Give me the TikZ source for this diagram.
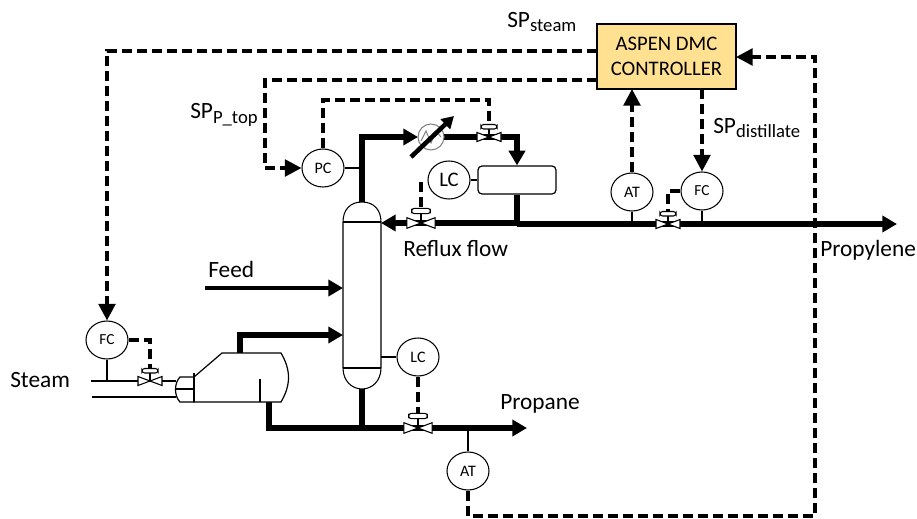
\documentclass[tikz,border=0pt]{standalone}
\usepackage{fontspec}
\setmainfont{Carlito}
\usetikzlibrary{arrows.meta,shapes.geometric}
\definecolor{ctrlfill}{RGB}{255,225,145}
\newcommand{\subtxt}[1]{\raisebox{-3.5pt}{\fontsize{14}{16}\selectfont #1}}
\tikzset{
  instr/.style={draw,ellipse,fill=white,line width=0.8pt,inner sep=0pt,minimum width=31.5pt,minimum height=28.5pt,font=\fontsize{12}{14}\selectfont},
  lbl/.style={inner sep=0pt,font=\fontsize{17.5}{20}\selectfont},
  heavy/.style={line width=4pt,miter limit=4},
  signal/.style={line width=2.7pt,dash pattern=on 7.5pt off 3.75pt},
  thin line/.style={line width=0.9pt},
  heavytip/.style={-{Triangle[length=11pt,width=12pt]}},
  signaltip/.style={-{Triangle[length=12.5pt,width=12.5pt]}},
  valve/.pic={
    \draw [line width=0.8pt,fill=white] (-12,4.5) -- (12,-4.5) -- (12,4.5) -- (-12,-4.5) -- cycle;
    \draw [line width=1.2pt] (0,0) -- (0,8);
    \draw [line width=0.8pt,fill=white,rounded corners=2pt] (-8,8) rectangle (8,12.5);
  }
}
\begin{document}
\begin{tikzpicture}[x=0.75pt,y=0.75pt,yscale=-1,xscale=1]
\useasboundingbox (0,0) rectangle (917,518);

% junctions
\coordinate (vsteam) at (150,381);
\coordinate (vreflux) at (421,223);
\coordinate (vtop) at (489,137);
\coordinate (vdist) at (668,224);
\coordinate (vbot) at (418,428);
\coordinate (reflux tee) at (517,224);
\coordinate (top out) at (362,202);
\coordinate (bot out) at (362,389);

% column, drum, controller
\draw [line width=0.8pt,fill=white] (343,222) -- (343,368) .. controls (343,381) and (352,389) .. (362,389) .. controls (372,389) and (381,381) .. (381,368) -- (381,222) .. controls (381,210) and (374,202) .. (362,202) .. controls (350,202) and (343,210) .. (343,222) -- cycle;
\draw [line width=0.8pt] (343,222) -- (381,222) (343,368) -- (381,368);
\node (drum) [draw,line width=0.9pt,rounded corners=3pt,fill=white,minimum width=58.5pt,minimum height=21pt,inner sep=0pt] at (517,180) {};
\node (ctrl) [draw,line width=1pt,fill=ctrlfill,minimum width=104.25pt,minimum height=48.75pt,inner sep=0pt,align=center,font=\fontsize{15.5}{19}\selectfont] at (666.5,56.5) {ASPEN DMC\\CONTROLLER};

% instruments
\node (fcsteam) [instr,font=\fontsize{11.5}{14}\selectfont] at (107,340) {FC};
\node (pc) [instr] at (323,168) {PC};
\node (lctop) [instr,font=\fontsize{15.5}{18}\selectfont] at (449,180) {LC};
\node (lcbot) [instr] at (418,357) {LC};
\node (atdist) [instr] at (632,192) {AT};
\node (fcdist) [instr,font=\fontsize{11.5}{14}\selectfont] at (702,191) {FC};
\node (atbot) [instr] at (468,471) {AT};

% process lines
\coordinate (burner top) at (240,353);
\coordinate (burner bot) at (269,402);
\coordinate (steam in) at (91,381);
\coordinate (steam end) at (176,381);
\draw [line width=2pt] (steam in) -- (steam end);
\coordinate (air in) at (92,397);
\coordinate (air end) at (176,397);
\draw [line width=2pt] (air in) -- (air end);
\coordinate (feed in) at (205,288);
\coordinate (feed end) at (343,288);
\draw [heavy,heavytip,line width=3.2pt] (feed in) -- (feed end);
\coordinate (boil end) at (343,335);
\draw [heavy,heavytip] (burner top) |- (boil end);
\coordinate (prop end) at (527,428);
\draw [heavy,heavytip] (burner bot) |- (prop end);
\draw [heavy] (bot out) -- (362,428);
\coordinate (drum in) at (drum.north);
\coordinate (cond in) at (418,137);
\draw [heavy,heavytip] (top out) |- (cond in);
\draw [heavy,heavytip] (cond in) -| (drum in);
\coordinate (col in) at (381,223);
\draw [heavy,heavytip] (reflux tee) -- (517,223) -- (col in);
\draw [heavy] (drum.south) -- (reflux tee);
\coordinate (pro end) at (897,224);
\draw [heavy,heavytip] (reflux tee) -- (pro end);

% burner
\draw [line width=0.9pt,fill=white] (194,377) -- (222,353) -- (281,353) .. controls (291,370) and (291,385) .. (281,402) -- (194,402) -- cycle;
\draw [line width=0.9pt,fill=white] (194,377) -- (180,377) .. controls (174,383) and (174,396) .. (180,402) -- (194,402) -- cycle;
\draw [line width=0.9pt] (175,389) -- (194,389) (194,373) -- (194,402) (260,379) -- (260,402);

% condenser
\node (cond) [draw=gray,circle,line width=0.8pt,fill=white,minimum size=19.5pt,inner sep=0pt] at (431,137) {};
\draw [gray,line width=0.7pt] (421,141) -- (426,131) -- (431,143) -- (436,131) -- (441,137);
\coordinate (cond a) at (411,157);
\coordinate (cond b) at (454,116);
\draw [line width=3.4pt,-{Triangle[length=9pt,width=10pt]}] (cond a) -- (cond b);

% thin taps
\draw [thin line] (fcsteam) -- (fcsteam |- steam in);
\draw [thin line] (pc) -- (362,168);
\draw [thin line] (lctop) -- (drum);
\draw [thin line] (lcbot) -- (381,357);
\draw [thin line] (atdist) -- (632,224);
\draw [thin line] (fcdist) -- (702,224);
\draw [thin line] (atbot) -- (468,428);

% valves
\pic at (vsteam) {valve};
\pic [scale=1.17] at (vreflux) {valve};
\pic at (vtop) {valve};
\pic at (vdist) {valve};
\pic [scale=1.17] at (vbot) {valve};

% signals
\coordinate (vsteam act) at (150,369);
\coordinate (vreflux act) at (421,208);
\coordinate (vtop act) at (489,125);
\coordinate (vdist act) at (668,212);
\coordinate (vbot act) at (418,413);
\coordinate (lctop sig) at (421,182);
\draw [signal] (fcsteam.east) -| (vsteam act);
\draw [signal] (pc.north) |- (489,100) -- (vtop act);
\draw [signal] (lctop sig) -- (vreflux act);
\draw [signal] (lcbot.south) -- (vbot act);
\draw [signal] (fcdist.west) -| (vdist act);
\coordinate (ctrl sp steam) at (597,51);
\coordinate (ctrl sp ptop) at (597,80);
\coordinate (ctrl at in) at (632,89);
\coordinate (ctrl fc out) at (702,89);
\coordinate (ctrl bot in) at (736,57);
\draw [signal,signaltip] (ctrl sp steam) -| (fcsteam.north);
\draw [signal,signaltip] (ctrl sp ptop) -- (265,80) -- (265,168) -- (pc.west);
\draw [signal,signaltip] (atdist.north) -- (ctrl at in);
\draw [signal,signaltip] (ctrl fc out) -- (fcdist.north);
\draw [signal,signaltip] (atbot.south) |- (815,516) -- (815,57) -- (ctrl bot in);

% labels
\node (steam) [lbl,anchor=west] at (10,380) {Steam};
\node (feed) [lbl,anchor=west] at (208,269) {Feed};
\node (reflux) [lbl,anchor=west] at (403,249) {Reflux flow};
\node (propane) [lbl,anchor=west] at (500,404) {Propane};
\node (propylene) [lbl,anchor=west] at (820,250) {Propylene};
\node (spsteam) [lbl,anchor=west] at (507,22) {SP\subtxt{steam}};
\node (spptop) [lbl,anchor=west] at (190,115) {SP\subtxt{P\_top}};
\node (spdist) [lbl,anchor=west] at (713,128) {SP\subtxt{distillate}};
\end{tikzpicture}
\end{document}
